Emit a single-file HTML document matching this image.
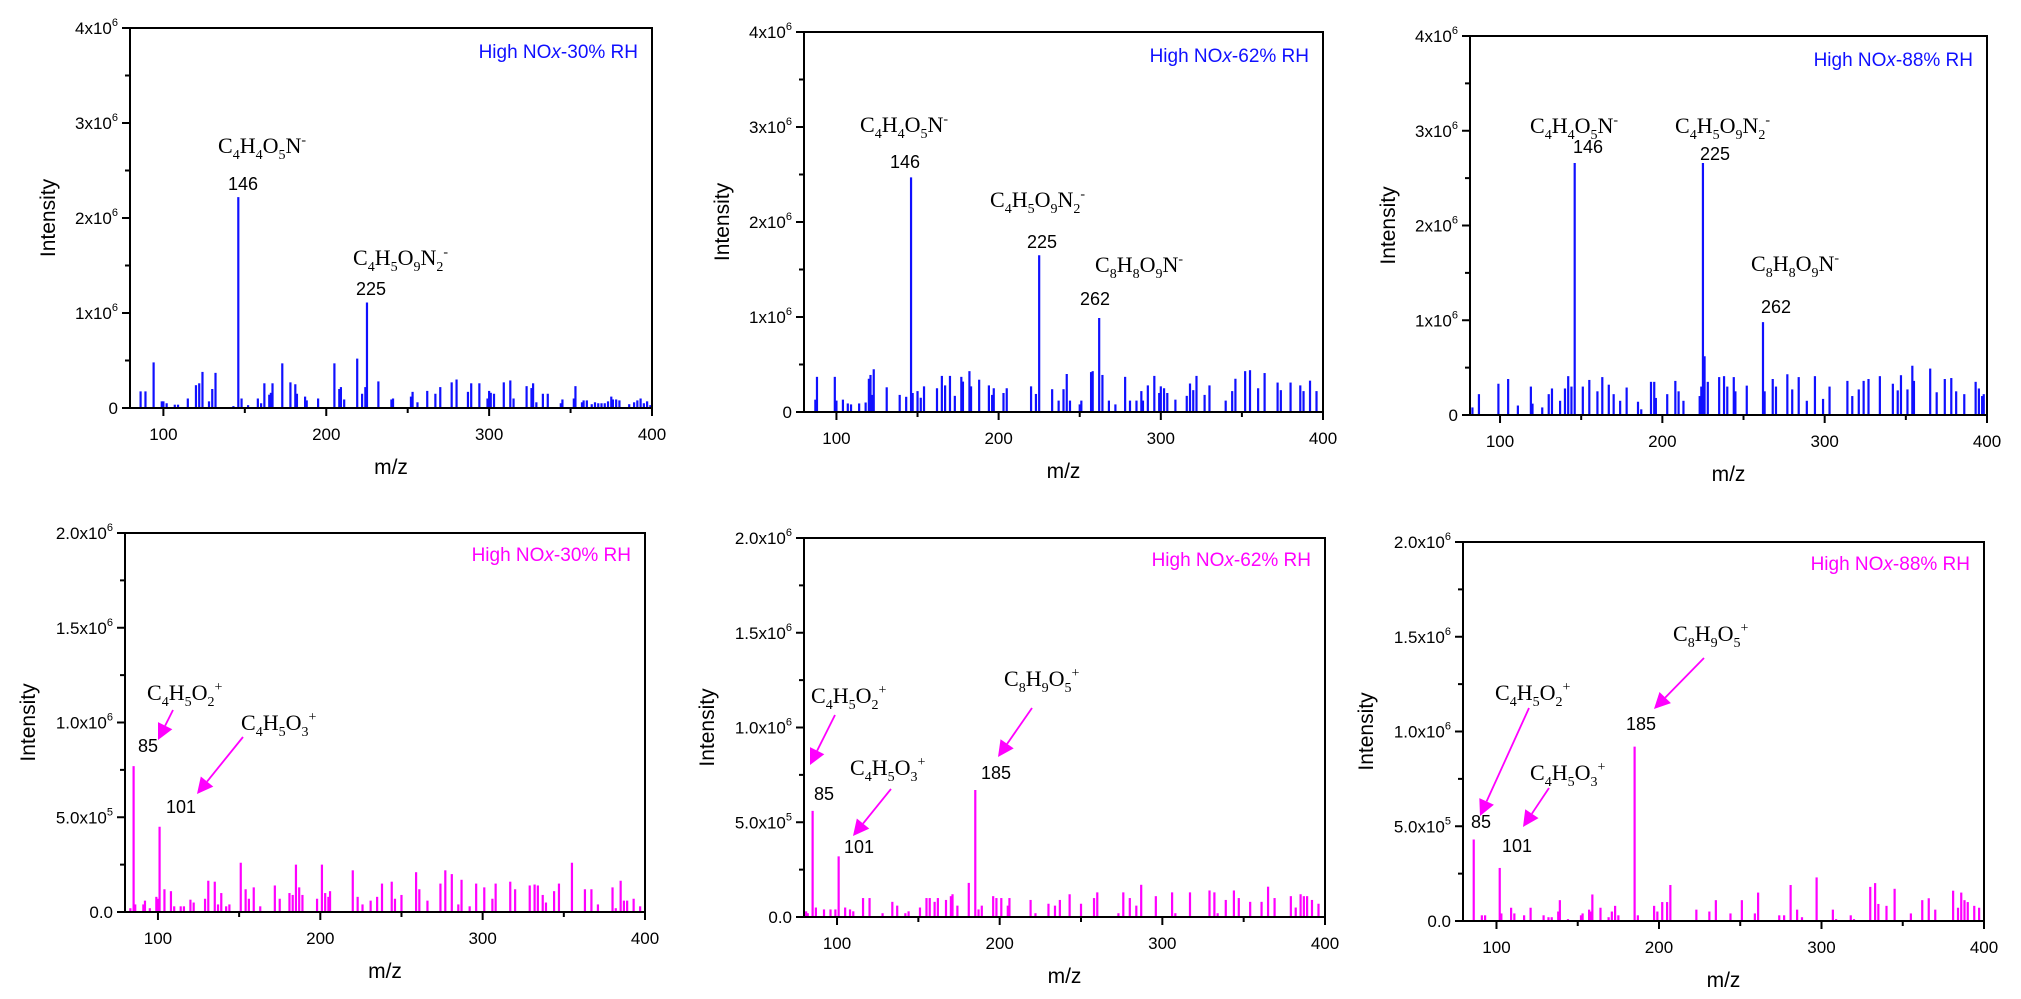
<!DOCTYPE html>
<html><head><meta charset="utf-8"><style>
html,body{margin:0;padding:0;background:#fff;}
svg{display:block;}
text{font-family:"Liberation Sans",Arial,sans-serif;}
.f{font-family:"Liberation Serif","Times New Roman",serif;}
</style></head><body>
<svg id="fig" width="2021" height="999" viewBox="0 0 2021 999" xmlns="http://www.w3.org/2000/svg"></svg>
<script>
// ---- data (intensity in units of 1e6) ----
const p1Mz=[86,89,94,99,100,102,107,109,115,120,122,124,128,130,132,143,146,148,152,158,160,162,165,166,167,173,178,181,182,187,188,195,205,208,209,211,219,222,224,225,232,240,241,252,253,256,262,267,270,277,280,287,289,294,299,300,301,303,309,313,315,323,326,327,329,333,336,344,345,352,353,357,358,360,363,365,367,369,371,373,375,376,378,380,386,389,391,393,395,397,399];
const p1Int=[0.175,0.175,0.48,0.07,0.07,0.05,0.035,0.035,0.1,0.24,0.26,0.38,0.07,0.2,0.37,0.02,2.22,0.1,0.03,0.1,0.05,0.26,0.14,0.16,0.26,0.47,0.27,0.25,0.15,0.12,0.08,0.1,0.47,0.2,0.22,0.09,0.52,0.15,0.22,1.11,0.28,0.09,0.1,0.12,0.17,0.06,0.18,0.15,0.22,0.27,0.3,0.17,0.26,0.26,0.1,0.18,0.16,0.15,0.27,0.29,0.1,0.23,0.21,0.26,0.06,0.15,0.15,0.05,0.09,0.1,0.23,0.06,0.08,0.08,0.04,0.06,0.05,0.05,0.05,0.07,0.12,0.09,0.09,0.08,0.04,0.06,0.08,0.1,0.05,0.07,0.03];
const p2Mz=[87,88,99,100,104,107,109,114,118,120,121,122,123,131,139,143,146,147,150,152,154,162,165,167,170,173,177,178,182,183,188,194,196,197,203,205,220,223,225,233,237,240,242,244,250,251,257,258,262,264,268,272,278,281,285,288,289,292,296,299,300,302,304,309,316,318,320,322,327,330,340,344,346,352,355,360,364,372,374,380,386,388,392,396];
const p2Int=[0.13,0.37,0.37,0.12,0.13,0.09,0.08,0.09,0.1,0.35,0.39,0.18,0.45,0.26,0.18,0.16,2.47,0.2,0.22,0.15,0.27,0.25,0.38,0.28,0.38,0.17,0.37,0.32,0.43,0.27,0.34,0.28,0.18,0.25,0.2,0.25,0.27,0.19,1.65,0.24,0.12,0.24,0.4,0.12,0.08,0.12,0.42,0.43,0.99,0.39,0.12,0.08,0.37,0.12,0.12,0.22,0.12,0.28,0.38,0.2,0.27,0.25,0.2,0.13,0.17,0.3,0.23,0.38,0.18,0.28,0.12,0.22,0.35,0.43,0.44,0.25,0.41,0.31,0.23,0.31,0.28,0.22,0.33,0.22];
const p3Mz=[83,87,99,105,111,119,120,126,130,132,137,140,142,144,146,151,155,160,163,167,170,174,178,185,187,193,195,196,203,208,210,213,223,224,225,226,228,235,238,240,244,245,252,262,263,268,270,277,280,284,289,294,299,303,314,317,321,324,327,334,342,345,347,351,354,355,365,369,374,378,381,386,393,395,397,398];
const p3Int=[0.08,0.22,0.33,0.38,0.1,0.3,0.12,0.08,0.22,0.28,0.15,0.28,0.41,0.3,2.66,0.3,0.37,0.25,0.4,0.32,0.22,0.15,0.29,0.14,0.06,0.35,0.35,0.18,0.22,0.36,0.25,0.15,0.2,0.3,2.66,0.62,0.35,0.4,0.41,0.3,0.4,0.25,0.31,0.98,0.25,0.38,0.3,0.43,0.27,0.4,0.15,0.41,0.17,0.3,0.36,0.2,0.27,0.36,0.38,0.41,0.33,0.26,0.42,0.27,0.52,0.36,0.49,0.24,0.38,0.39,0.25,0.22,0.35,0.28,0.2,0.22];
const p4Mz=[83,85,86,91,92,95,99,100,101,104,108,110,114,116,120,122,129,131,135,137,139,142,144,151,154,156,159,163,172,175,181,183,185,187,189,198,201,203,205,206,220,223,226,231,235,238,244,246,250,259,261,266,274,277,281,285,287,292,296,301,306,308,317,320,329,332,334,337,339,344,347,355,363,367,371,380,382,385,387,389,393,397];
const p4Int=[0.02,0.77,0.04,0.04,0.06,0.02,0.08,0.07,0.45,0.12,0.11,0.03,0.03,0.03,0.065,0.05,0.07,0.165,0.16,0.04,0.1,0.03,0.04,0.26,0.12,0.07,0.13,0.03,0.14,0.07,0.1,0.09,0.25,0.13,0.09,0.07,0.25,0.1,0.08,0.11,0.22,0.08,0.04,0.06,0.08,0.15,0.16,0.07,0.09,0.21,0.12,0.06,0.15,0.22,0.2,0.04,0.17,0.03,0.15,0.13,0.07,0.15,0.16,0.12,0.14,0.145,0.14,0.09,0.05,0.11,0.15,0.26,0.12,0.12,0.04,0.13,0.02,0.165,0.06,0.06,0.07,0.03];
const p5Mz=[81,82,85,87,92,96,99,101,105,108,110,116,120,128,134,137,142,144,151,155,157,160,162,167,170,171,174,181,185,187,189,196,198,201,205,206,219,222,230,234,237,243,250,258,260,273,276,280,284,287,296,306,308,317,329,332,334,339,344,347,354,361,365,369,379,382,385,387,389,392,396];
const p5Int=[0.03,0.02,0.56,0.05,0.04,0.04,0.04,0.32,0.05,0.04,0.03,0.1,0.1,0.02,0.08,0.06,0.02,0.03,0.05,0.1,0.1,0.08,0.1,0.09,0.11,0.12,0.06,0.18,0.67,0.04,0.06,0.11,0.1,0.1,0.06,0.1,0.09,0.02,0.07,0.06,0.09,0.12,0.07,0.1,0.13,0.02,0.13,0.1,0.06,0.17,0.11,0.13,0.02,0.13,0.14,0.13,0.02,0.09,0.14,0.1,0.08,0.08,0.16,0.1,0.11,0.05,0.12,0.11,0.11,0.09,0.07];
const p6Mz=[86,91,93,102,103,109,111,117,121,129,132,134,138,139,144,152,153,157,158,159,164,169,171,173,175,185,187,197,199,202,205,207,223,231,235,244,251,259,261,274,277,281,285,288,297,307,309,318,320,330,333,335,340,345,355,362,366,370,381,384,386,388,390,394,397];
const p6Int=[0.43,0.03,0.03,0.28,0.04,0.07,0.04,0.03,0.07,0.03,0.02,0.02,0.05,0.11,0.01,0.03,0.04,0.06,0.05,0.14,0.07,0.02,0.05,0.08,0.03,0.92,0.03,0.08,0.05,0.1,0.1,0.19,0.06,0.05,0.11,0.04,0.11,0.04,0.15,0.03,0.03,0.19,0.06,0.02,0.23,0.06,0.01,0.03,0.01,0.18,0.2,0.09,0.08,0.17,0.04,0.11,0.12,0.06,0.16,0.07,0.15,0.11,0.1,0.08,0.07];
const topYTicks=[0,1,2,3,4];
const topYLabels=["0","1x10|6","2x10|6","3x10|6","4x10|6"];
const botYTicks=[0,0.5,1.0,1.5,2.0];
const botYLabels=["0.0","5.0x10|5","1.0x10|6","1.5x10|6","2.0x10|6"];
const xTicks=[100,200,300,400];

const NS="http://www.w3.org/2000/svg";
const svg=document.getElementById('fig');
function mk(tag,attrs,parent){const e=document.createElementNS(NS,tag);for(const k in attrs)e.setAttribute(k,attrs[k]);(parent||svg).appendChild(e);return e;}

const panels=[
 {id:'p1',L:130,R:652,T:28,B:408,xmin:79.5,ymax:4,mz:p1Mz,it:p1Int,col:'#1010ff',title:'30',top:true},
 {id:'p2',L:804,R:1323,T:32,B:412,xmin:80,ymax:4,mz:p2Mz,it:p2Int,col:'#1010ff',title:'62',top:true},
 {id:'p3',L:1470,R:1987,T:36,B:415,xmin:81.5,ymax:4,mz:p3Mz,it:p3Int,col:'#1010ff',title:'88',top:true},
 {id:'p4',L:125,R:645,T:533,B:912,xmin:79.7,ymax:2,mz:p4Mz,it:p4Int,col:'#ff00ff',title:'30',top:false},
 {id:'p5',L:804,R:1325,T:538,B:917,xmin:79.7,ymax:2,mz:p5Mz,it:p5Int,col:'#ff00ff',title:'62',top:false},
 {id:'p6',L:1463,R:1984,T:542,B:921,xmin:79.4,ymax:2,mz:p6Mz,it:p6Int,col:'#ff00ff',title:'88',top:false}
];

function supLabel(g,x,y,s){
  const [base,exp]=s.split('|');
  const t=mk('text',{x:x,y:y,'text-anchor':'end','font-size':17,fill:'#000'},g);
  
  
  if(exp){t.textContent=base;const sp=mk('tspan',{dy:-8,'font-size':11},t);sp.textContent=exp;}
  else t.textContent=base;
}

panels.forEach(p=>{
  const g=mk('g',{});
  
  
  const xs=v=>p.L+(v-p.xmin)/(400-p.xmin)*(p.R-p.L);
  const ys=v=>p.B-v/p.ymax*(p.B-p.T);
  p.xs=xs;p.ys=ys;
  // bars
  const bg=mk('g',{},g);
  
  
  p.mz.forEach((m,i)=>{
    const l=mk('line',{x1:xs(m),x2:xs(m),y1:p.B,y2:ys(p.it[i]),stroke:p.col,'stroke-width':2.2},bg);
    
    
  });
  // frame
  const fr=mk('rect',{x:p.L,y:p.T,width:p.R-p.L,height:p.B-p.T,fill:'none',stroke:'#000','stroke-width':2},g);
  
  
  // y ticks
  const yT=p.top?topYTicks:botYTicks, yL=p.top?topYLabels:botYLabels;
  const step=yT[1]-yT[0];
  yT.forEach((v,i)=>{
    mk('line',{x1:p.L-8,x2:p.L,y1:ys(v),y2:ys(v),stroke:'#000','stroke-width':2},g);
    if(i<yT.length-1){const mv=v+step/2;mk('line',{x1:p.L-5,x2:p.L,y1:ys(mv),y2:ys(mv),stroke:'#000','stroke-width':2},g);}
    supLabel(g,p.L-12,ys(v)+6,yL[i]);
  });
  // x ticks
  xTicks.forEach((v,i)=>{
    mk('line',{x1:xs(v),x2:xs(v),y1:p.B,y2:p.B+8,stroke:'#000','stroke-width':2},g);
    if(i<xTicks.length-1)mk('line',{x1:xs(v+50),x2:xs(v+50),y1:p.B,y2:p.B+5,stroke:'#000','stroke-width':2},g);
    const t=mk('text',{x:xs(v),y:p.B+32,'text-anchor':'middle','font-size':17},g);
    
    
    t.textContent=v;
  });
  const xt=mk('text',{x:(p.L+p.R)/2,y:p.B+66,'text-anchor':'middle','font-size':21},g);
  
  
  xt.textContent='m/z';
  const yx=p.top?p.L-82:p.L-97, yc=(p.T+p.B)/2;
  const yt=mk('text',{x:yx,y:yc,'text-anchor':'middle','font-size':21,transform:'rotate(-90 '+yx+' '+yc+')',dy:7},g);
  
  
  yt.textContent='Intensity';
  const tt=mk('text',{x:p.R-14,y:p.top?p.T+30:p.T+28,'text-anchor':'end','font-size':19,fill:p.col},g);
  
  
  tt.textContent='High NO';
  const ti=mk('tspan',{'font-style':'italic'},tt);ti.textContent='x';
  const tr=mk('tspan',{},tt);tr.textContent='-'+p.title+'% RH';
});

// formula text: tokens like C,_4,^-
function formula(x,y,spec,name){
  const t=mk('text',{x:x,y:y,'font-size':22,class:'f',fill:'#000'});
  
  
  let shift=0;
  spec.forEach(tok=>{
    let dy=0,fs=22,txt=tok;
    if(tok[0]=='_'){dy=6;fs=14;txt=tok.slice(1);}
    else if(tok[0]=='^'){dy=-9;fs=14;txt=tok.slice(1);}
    const s=mk('tspan',{dy:dy-shift,'font-size':fs},t);s.textContent=txt;shift=dy;
  });
  if(shift){const s=mk('tspan',{dy:-shift},t);s.textContent='';}
}
function num(x,y,s){
  const t=mk('text',{x:x,y:y,'font-size':18,fill:'#000'});
  
  
  t.textContent=s;
}
function arrow(x1,y1,x2,y2){
  const g=mk('g',{});
  
  
  const a=Math.atan2(y2-y1,x2-x1),L=16,W=8;
  const bx=x2-L*Math.cos(a),by=y2-L*Math.sin(a);
  mk('line',{x1:x1,y1:y1,x2:bx,y2:by,stroke:'#ff00ff','stroke-width':1.8},g);
  mk('polygon',{points:`${x2},${y2} ${bx+W*Math.sin(a)},${by-W*Math.cos(a)} ${bx-W*Math.sin(a)},${by+W*Math.cos(a)}`,fill:'#ff00ff'},g);
}
const F1=['C','_4','H','_4','O','_5','N','^-'];
const F2=['C','_4','H','_5','O','_9','N','_2','^-'];
const F3=['C','_8','H','_8','O','_9','N','^-'];
const F4=['C','_4','H','_5','O','_2','^+'];
const F5=['C','_4','H','_5','O','_3','^+'];
const F6=['C','_8','H','_9','O','_5','^+'];
// top-left
formula(218,153,F1,'formula-146');num(228,190,'146');
formula(353,265,F2,'formula-225');num(356,295,'225');
// top-middle
formula(860,132,F1,'formula-146');num(890,168,'146');
formula(990,207,F2,'formula-225');num(1027,248,'225');
formula(1095,272,F3,'formula-262');num(1080,305,'262');
// top-right
formula(1530,133,F1,'formula-146');num(1573,153,'146');
formula(1675,133,F2,'formula-225');num(1700,160,'225');
formula(1751,271,F3,'formula-262');num(1761,313,'262');
// bottom-left
formula(147,700,F4,'formula-85');num(138,752,'85');arrow(173,710,158,740);
formula(241,730,F5,'formula-101');num(166,813,'101');arrow(243,737,197,794);
// bottom-middle
formula(811,703,F4,'formula-85');num(814,800,'85');arrow(835,715,810,765);
formula(850,775,F5,'formula-101');num(844,853,'101');arrow(891,789,853,836);
formula(1004,686,F6,'formula-185');num(981,779,'185');arrow(1032,708,998,757);
// bottom-right
formula(1495,700,F4,'formula-85');num(1471,828,'85');arrow(1529,708,1480,816);
formula(1530,780,F5,'formula-101');num(1502,852,'101');arrow(1549,788,1523,827);
formula(1673,641,F6,'formula-185');num(1626,730,'185');arrow(1704,658,1654,709);
</script>
</body></html>
